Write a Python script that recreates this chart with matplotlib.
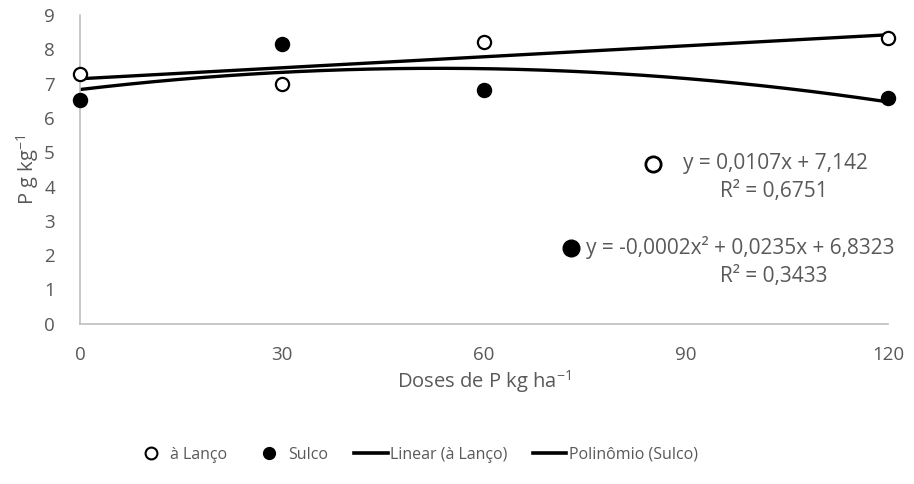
import numpy as np
import matplotlib.pyplot as plt
from matplotlib.lines import Line2D

plt.rcParams['font.family'] = ['Open Sans', 'DejaVu Sans']
plt.rcParams['mathtext.fontset'] = 'custom'
plt.rcParams['mathtext.rm'] = 'Open Sans'

doses = [0, 30, 60, 120]
lanco = [7.27, 7.00, 8.22, 8.32]     # à Lanço (abertos)
sulco = [6.52, 8.15, 6.82, 6.57]     # Sulco (cheios)
eq_lanco = ['y = 0,0107x + 7,142', 'R² = 0,6751']
eq_sulco = ['y = -0,0002x² + 0,0235x + 6,8323', 'R² = 0,3433']

gray = '#595959'
fig = plt.figure(figsize=(9.14, 4.84), dpi=100)
ax = fig.add_axes([0.0875, 0.331, 0.884, 0.638])

# linhas de tendência ajustadas aos dados
xs = np.linspace(0, 120, 200)
p1 = np.polyfit(doses, lanco, 1)
p2 = np.polyfit(doses, sulco, 2)
ax.plot(xs, np.polyval(p1, xs), color='black', lw=2.4, zorder=2)
ax.plot(xs, np.polyval(p2, xs), color='black', lw=2.4, zorder=2)

ax.plot(doses, lanco, 'o', ms=9.5, mfc='white', mec='black', mew=1.6, zorder=3, clip_on=False)
ax.plot(doses, sulco, 'o', ms=9.5, mfc='black', mec='black', mew=1.6, zorder=3, clip_on=False)

ax.set_xlim(0, 120)
ax.set_ylim(0, 9)
ax.set_xticks([0, 30, 60, 90, 120])
ax.set_yticks(range(10))
ax.tick_params(length=0, labelsize=13.5, colors=gray)
ax.tick_params(axis='x', pad=16)
ax.tick_params(axis='y', pad=18)
for s in ['top', 'right']:
    ax.spines[s].set_visible(False)
for s in ['left', 'bottom']:
    ax.spines[s].set_color('#BFBFBF')
    ax.spines[s].set_linewidth(1.2)

ax.set_xlabel('Doses de P kg ha$^{\\mathregular{-1}}$', fontsize=14.5, color=gray, labelpad=3)
ax.set_ylabel('P g kg$^{\\mathregular{-1}}$', fontsize=14.5, color=gray, labelpad=2)

# rótulos das equações
ax.plot([0.709], [0.518], 'o', ms=11, mfc='white', mec='black', mew=2,
        transform=ax.transAxes, clip_on=False)
ax.text(0.975, 0.518, eq_lanco[0], transform=ax.transAxes,
        ha='right', va='center', fontsize=15, color=gray)
ax.text(0.859, 0.428, eq_lanco[1], transform=ax.transAxes,
        ha='center', va='center', fontsize=15, color=gray)
ax.plot([0.608], [0.246], 'o', ms=12, mfc='black', mec='black',
        transform=ax.transAxes, clip_on=False)
ax.text(0.626, 0.246, eq_sulco[0], transform=ax.transAxes,
        ha='left', va='center', fontsize=15, color=gray)
ax.text(0.859, 0.152, eq_sulco[1], transform=ax.transAxes,
        ha='center', va='center', fontsize=15, color=gray)

handles = [
    Line2D([], [], ls='none', marker='o', ms=8.5, mfc='white', mec='black', mew=1.5),
    Line2D([], [], ls='none', marker='o', ms=8.5, mfc='black', mec='black'),
    Line2D([], [], color='black', lw=2.6),
    Line2D([], [], color='black', lw=2.6),
]
labels = ['à Lanço', 'Sulco', 'Linear (à Lanço)', 'Polinômio (Sulco)']
leg = fig.legend(handles, labels, loc='center', bbox_to_anchor=(0.455, 0.06),
                 ncol=4, frameon=False, fontsize=11.5, handlelength=2.1,
                 handletextpad=0.15, columnspacing=1.6)
for t in leg.get_texts():
    t.set_color(gray)

fig.savefig('out.png', dpi=100)
